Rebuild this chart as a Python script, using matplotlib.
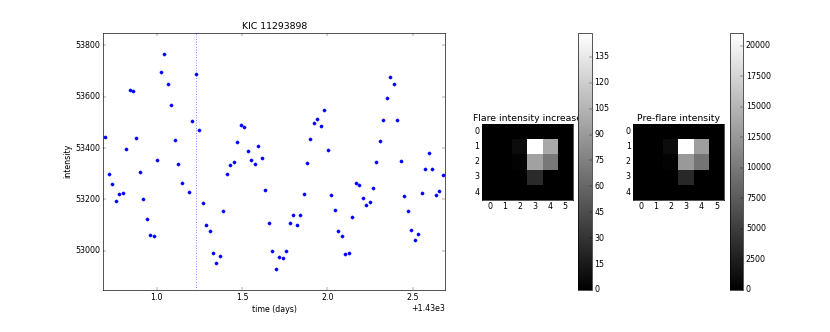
import numpy as np
import matplotlib
matplotlib.use("Agg")
import matplotlib.pyplot as plt

plt.style.use('classic')

# light curve (time offset +1430 days)
t_days = [0.697, 0.719, 0.740, 0.760, 0.779, 0.801, 0.820, 0.842, 0.861, 0.881,
          0.902, 0.922, 0.941, 0.963, 0.984, 1.004, 1.023, 1.045, 1.064, 1.086,
          1.105, 1.127, 1.148, 1.1875, 1.209, 1.229, 1.250, 1.270, 1.289, 1.311,
          1.330, 1.350, 1.371, 1.391, 1.412, 1.432, 1.453, 1.473, 1.494, 1.514,
          1.533, 1.555, 1.574, 1.596, 1.615, 1.637, 1.656, 1.676, 1.697, 1.717,
          1.738, 1.760, 1.779, 1.799, 1.820, 1.840, 1.861, 1.881, 1.900, 1.922,
          1.941, 1.963, 1.982, 2.002, 2.023, 2.045, 2.064, 2.084, 2.105, 2.125,
          2.146, 2.166, 2.188, 2.207, 2.227, 2.248, 2.268, 2.287, 2.309, 2.328,
          2.350, 2.369, 2.391, 2.410, 2.432, 2.451, 2.471, 2.492, 2.512, 2.533,
          2.553, 2.572, 2.594, 2.613, 2.635, 2.654, 2.676]
intensity = [53441, 53300, 53258, 53194, 53221, 53225, 53395, 53628, 53623, 53440,
             53307, 53203, 53124, 53060, 53055, 53354, 53698, 53766, 53650, 53568,
             53433, 53336, 53263, 53230, 53506, 53688, 53471, 53185, 53099, 53078,
             52990, 52951, 52980, 53153, 53300, 53333, 53347, 53425, 53490, 53480,
             53390, 53354, 53337, 53408, 53362, 53235, 53108, 52999, 52930, 52977,
             52970, 52997, 53107, 53137, 53099, 53140, 53222, 53341, 53436, 53496,
             53513, 53485, 53548, 53394, 53217, 53157, 53078, 53055, 52986, 52991,
             53130, 53263, 53255, 53207, 53176, 53189, 53246, 53346, 53427, 53510,
             53595, 53676, 53648, 53511, 53350, 53211, 53155, 53081, 53043, 53065,
             53225, 53319, 53382, 53319, 53216, 53233, 53293]
t_offset = 1430.0
flare_time = 1.2285

# pixel images (5 rows x 6 cols)
flare_increase = [[0, 0, 0, 0, 0, 0],
                  [0, 0, 7, 149, 98, 0],
                  [0, 0, 2, 94, 70, 0],
                  [0, 0, 0, 25, 0, 0],
                  [0, 0, 0, 0, 0, 0]]
pre_flare = [[0, 0, 0, 0, 0, 0],
             [0, 0, 1000, 21060, 13000, 0],
             [0, 0, 300, 12600, 9600, 0],
             [0, 0, 0, 3300, 0, 0],
             [0, 0, 0, 0, 0, 0]]
cb1_ticks = [0, 15, 30, 45, 60, 75, 90, 105, 120, 135]
cb2_ticks = [0, 2500, 5000, 7500, 10000, 12500, 15000, 17500, 20000]

dpi = 47
W, H = 830, 332
fig = plt.figure(figsize=(W / dpi, H / dpi), dpi=dpi)

def rect(l, r, top, bot):
    return [l / W, (H - bot) / H, (r - l) / W, (bot - top) / H]

t = t_offset + np.array(t_days)
y = np.array(intensity)

ax = fig.add_axes(rect(103.3, 445, 32.7, 290))
ax.plot(t, y, 'b.', markersize=10)
ax.axvline(t_offset + flare_time, color='b', linestyle=':')
rng = y.max() - y.min()
ax.set_ylim(y.min() - 0.1 * rng, y.max() + 0.1 * rng)
ax.set_xlim(t_offset + 0.6875, t_offset + 2.689)
ax.set_yticks([53000, 53200, 53400, 53600, 53800])
ax.ticklabel_format(axis='y', useOffset=False)
ax.set_title("KIC 11293898")
ax.set_xlabel("time (days)")
ax.set_ylabel("intensity")

ax2 = fig.add_axes(rect(481.7, 573.3, 124, 199.7))
im1 = ax2.imshow(np.array(flare_increase), cmap='gray', interpolation='nearest')
ax2.set_title("Flare intensity increase")
cax1 = fig.add_axes(rect(578.3, 591.7, 32.7, 290))
cb1 = fig.colorbar(im1, cax=cax1, ticks=cb1_ticks)

ax3 = fig.add_axes(rect(633.3, 724.3, 124, 199.7))
im2 = ax3.imshow(np.array(pre_flare), cmap='gray', interpolation='nearest')
ax3.set_title("Pre-flare intensity")
cax2 = fig.add_axes(rect(730, 743.3, 32.7, 290))
cb2 = fig.colorbar(im2, cax=cax2, ticks=cb2_ticks)

fig.savefig("out.png", dpi=dpi)
